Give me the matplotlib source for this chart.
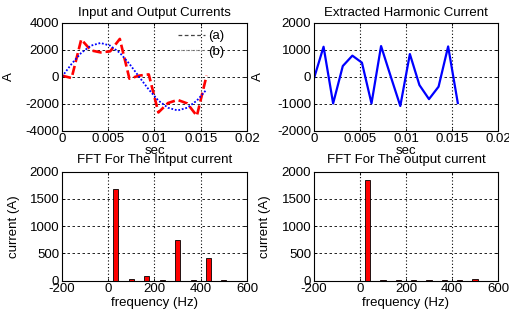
import matplotlib
matplotlib.use("Agg")
import matplotlib.pyplot as plt
from matplotlib.lines import Line2D

plt.rcParams['font.family'] = ['Liberation Sans', 'DejaVu Sans']
plt.rcParams['axes.unicode_minus'] = False
FS = 9.5
plt.rcParams['font.size'] = FS

# --- data ---
t = [0.0, 0.00104, 0.00208, 0.00313, 0.00417, 0.00521, 0.00625, 0.00729,
     0.00833, 0.00938, 0.01042, 0.01146, 0.0125, 0.01354, 0.01458, 0.01563]
current_a = [80, -100, 2760, 1950, 1800, 1880, 2800, -150,
             80, 170, -2650, -1950, -1720, -1980, -2900, 80]
current_b = [0, 950, 1770, 2300, 2500, 2300, 1770, 950,
             0, -950, -1770, -2300, -2500, -2300, -1770, -950]
harmonic = [-60, 1110, -990, 395, 780, 520, -990, 1135,
            20, -1085, 840, -310, -830, -370, 1120, -975]

freq = [33.3, 100, 166.7, 233.3, 300, 366.7, 433.3, 500]
fft_in = [1680, 30, 85, 20, 740, 20, 420, 20]
fft_out = [1850, 5, 5, 5, 15, 15, 15, 30]

W, H = 510, 313
fig = plt.figure(figsize=(W / 100, H / 100), dpi=100)

def px_axes(l, r, top, bot):
    return fig.add_axes([l / W, 1 - bot / H, (r - l) / W, (bot - top) / H])

def style(ax):
    ax.tick_params(direction='in', length=2.5, width=0.6, pad=2, top=True, right=True,
                   labelsize=FS)
    for s in ax.spines.values():
        s.set_linewidth(0.8)
    ax.grid(False)
    for x in ax.get_xticks()[1:-1]:
        ax.axvline(x, color='black', ls=(0, (1, 2)), lw=0.8, zorder=0.5)
    for y in ax.get_yticks()[1:-1]:
        ax.axhline(y, color='black', ls=(0, (3, 3)), lw=0.6, zorder=0.5)

ax1 = px_axes(62, 247, 22.7, 130.7)
ax1.plot(t, current_a, color='red', ls=(0, (3.5, 1.5)), lw=1.9)
ax1.plot(t, current_b, color='blue', ls=(0, (1, 1)), lw=1.3)
ax1.set_xlim(0, 0.02)
ax1.set_ylim(-4000, 4000)
ax1.set_xticks([0, 0.005, 0.01, 0.015, 0.02])
ax1.set_xticklabels(['0', '0.005', '0.01', '0.015', '0.02'])
ax1.set_yticks([-4000, -2000, 0, 2000, 4000])
ax1.set_title('Input and Output Currents', fontsize=FS, pad=5)
ax1.set_xlabel('sec', labelpad=0)
ax1.set_ylabel('A')
ax1.yaxis.set_label_coords(-0.254, 0.5)
style(ax1)
handles = [Line2D([], [], color='#444444', ls=(0, (3, 2)), lw=0.9),
           Line2D([], [], color='#aaaaaa', ls=(0, (1, 1)), lw=0.9)]
ax1.legend(handles, ['(a)', '(b)'], loc='upper left', frameon=False,
           bbox_to_anchor=(0.6, 0.98), handlelength=2.0, handletextpad=0.3,
           labelspacing=0.25, fontsize=FS, borderaxespad=0)

ax2 = px_axes(314, 498, 22.7, 130.7)
ax2.plot(t, harmonic, color='blue', lw=1.6)
ax2.set_xlim(0, 0.02)
ax2.set_ylim(-2000, 2000)
ax2.set_xticks([0, 0.005, 0.01, 0.015, 0.02])
ax2.set_xticklabels(['0', '0.005', '0.01', '0.015', '0.02'])
ax2.set_yticks([-2000, -1000, 0, 1000, 2000])
ax2.set_title('Extracted Harmonic Current', fontsize=FS, pad=5)
ax2.set_xlabel('sec', labelpad=0)
ax2.set_ylabel('A')
ax2.yaxis.set_label_coords(-0.272, 0.5)
style(ax2)

ax3 = px_axes(62, 247, 171.7, 280.7)
ax3.bar(freq, fft_in, width=22, color='red', edgecolor='black', linewidth=0.6, zorder=2)
ax3.set_xlim(-200, 600)
ax3.set_ylim(0, 2000)
ax3.set_xticks([-200, 0, 200, 400, 600])
ax3.set_yticks([0, 500, 1000, 1500, 2000])
ax3.set_title('FFT For The Intput current', fontsize=FS, pad=6)
ax3.set_xlabel('frequency (Hz)', labelpad=1)
ax3.set_ylabel('current (A)')
ax3.yaxis.set_label_coords(-0.227, 0.5)
style(ax3)

ax4 = px_axes(314, 498, 171.7, 280.7)
ax4.bar(freq, fft_out, width=22, color='red', edgecolor='black', linewidth=0.6, zorder=2)
ax4.set_xlim(-200, 600)
ax4.set_ylim(0, 2000)
ax4.set_xticks([-200, 0, 200, 400, 600])
ax4.set_yticks([0, 500, 1000, 1500, 2000])
ax4.set_title('FFT For The output current', fontsize=FS, pad=6)
ax4.set_xlabel('frequency (Hz)', labelpad=1)
ax4.set_ylabel('current (A)')
ax4.yaxis.set_label_coords(-0.234, 0.5)
style(ax4)

fig.savefig('out.png', dpi=100)
